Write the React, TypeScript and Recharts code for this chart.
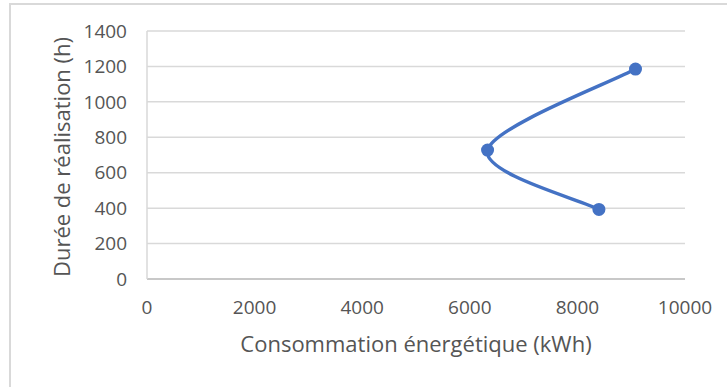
import { ScatterChart, Scatter, XAxis, YAxis, CartesianGrid } from "recharts";

// energy consumption (kWh) vs duration (h), in drawing order
const consumption = [8400, 6330, 9080];
const duration = [393, 728, 1185];

const xTicks = [0, 2000, 4000, 6000, 8000, 10000];
const yTicks = [0, 200, 400, 600, 800, 1000, 1200, 1400];

const xTitle = "Consommation énergétique (kWh)";
const yTitle = "Durée de réalisation (h)";

const data = consumption.map((x, i) => ({ x, y: duration[i] }));

const BLUE = "#4472C4";
const TEXT = "#555555";
const FONT = "'Open Sans', sans-serif";

// Excel-style smoothed line (catmull-rom through the scatter points)
const smoothPath = (pts: { x: number; y: number }[]) => {
  if (!pts || pts.length < 2) return "";
  let d = `M${pts[0].x},${pts[0].y}`;
  for (let i = 0; i < pts.length - 1; i++) {
    const p0 = pts[i - 1] || pts[i];
    const p1 = pts[i];
    const p2 = pts[i + 1];
    const p3 = pts[i + 2] || p2;
    const c1x = p1.x + (p2.x - p0.x) / 6;
    const c1y = p1.y + (p2.y - p0.y) / 6;
    const c2x = p2.x - (p3.x - p1.x) / 6;
    const c2y = p2.y - (p3.y - p1.y) / 6;
    d += ` C${c1x},${c1y} ${c2x},${c2y} ${p2.x},${p2.y}`;
  }
  return d;
};

const SmoothLine = (props: any) => {
  const pts = (props.points || []).map((p: any) => ({
    x: p.x ?? p.cx,
    y: p.y ?? p.cy,
  }));
  return (
    <path
      d={smoothPath(pts)}
      fill="none"
      stroke={BLUE}
      strokeWidth={3.5}
      strokeLinecap="round"
    />
  );
};

const Dot = (props: any) => (
  <circle cx={props.cx} cy={props.cy} r={6.5} fill={BLUE} />
);

const XTitle = (props: any) => {
  const vb = props.viewBox || { x: 147, y: 279, width: 538 };
  return (
    <text
      x={vb.x + vb.width / 2}
      y={vb.y + 73}
      textAnchor="middle"
      fill={TEXT}
      fontSize={22}
      fontFamily={FONT}
    >
      {xTitle}
    </text>
  );
};

const YTitle = (props: any) => {
  const vb = props.viewBox || { x: 8, y: 31, height: 248 };
  const cx = vb.x + 62;
  const cy = vb.y + vb.height / 2 + 2;
  return (
    <text
      x={cx}
      y={cy}
      transform={`rotate(-90, ${cx}, ${cy})`}
      textAnchor="middle"
      fill={TEXT}
      fontSize={22}
      fontFamily={FONT}
    >
      {yTitle}
    </text>
  );
};

export default function App() {
  return (
    <div
      style={{
        position: "absolute",
        left: 0,
        top: 0,
        width: 727,
        height: 387,
        background: "#fff",
        overflow: "hidden",
      }}
    >
      {/* chart frame, runs off the right and bottom edges */}
      <div
        style={{
          position: "absolute",
          left: 9,
          top: 3,
          width: 800,
          height: 500,
          border: "2px solid #d9d9d9",
        }}
      />
      <div style={{ position: "absolute", left: 0, top: 0 }}>
        <ScatterChart
          width={727}
          height={387}
          margin={{ top: 31, right: 42, bottom: 0, left: 8 }}
        >
          <CartesianGrid
            horizontal={true}
            vertical={false}
            stroke="#d9d9d9"
            strokeWidth={1.5}
          />
          <XAxis
            type="number"
            dataKey="x"
            domain={[0, 10000]}
            ticks={xTicks}
            interval={0}
            height={108}
            tickLine={false}
            tickSize={0}
            tickMargin={22}
            axisLine={{ stroke: "#bfbfbf", strokeWidth: 1.5 }}
            tick={{ fill: TEXT, fontSize: 19, fontFamily: FONT }}
            label={<XTitle />}
          />
          <YAxis
            type="number"
            dataKey="y"
            domain={[0, 1400]}
            ticks={yTicks}
            interval={0}
            width={139}
            tickLine={false}
            tickSize={0}
            tickMargin={20}
            axisLine={{ stroke: "#d9d9d9", strokeWidth: 1.5 }}
            tick={{ fill: TEXT, fontSize: 19, fontFamily: FONT }}
            label={<YTitle />}
          />
          <Scatter
            data={data}
            fill={BLUE}
            line={SmoothLine}
            shape={Dot}
            isAnimationActive={false}
          />
        </ScatterChart>
      </div>
    </div>
  );
}
